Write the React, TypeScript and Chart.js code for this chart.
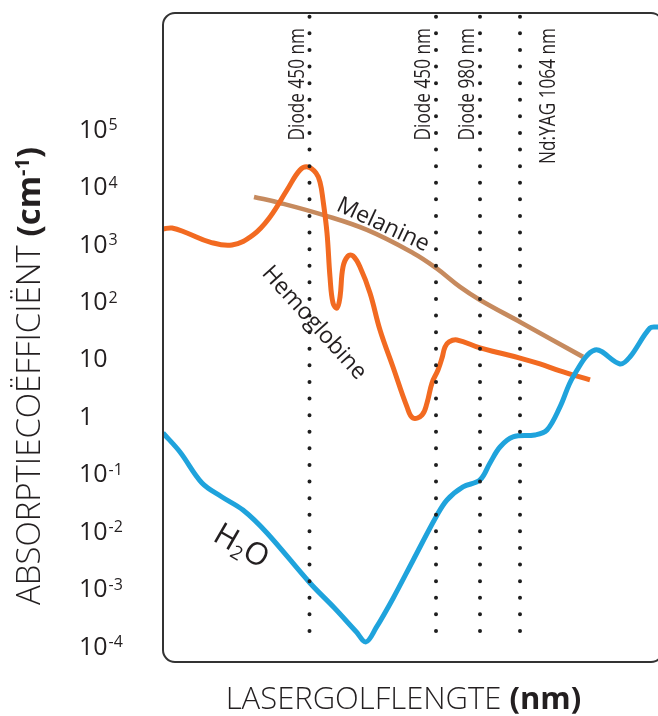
import React, { useEffect, useRef } from "react";
import { Chart, registerables } from "chart.js";

Chart.register(...registerables);

// Schematic wavelength position (0–100, axis unlabelled in the original)
const hemoX = [0, 1.8, 4.8, 9.4, 13.8, 18, 21.4, 24.8, 27.4, 29, 30.6, 31.4, 32, 32.8, 33.4, 34, 34.8, 35.4, 36, 37, 38, 39.4, 41.4, 43.4, 46, 48.8, 50, 51.8, 52.8, 53.8, 55, 55.8, 56.4, 57.2, 58.8, 63.4, 67.4, 71.4, 75.4, 79.4, 85.4];
const hemoY = [1810, 1880, 1540, 1070, 953, 1420, 2930, 8650, 19300, 21800, 17100, 11900, 5790, 1540, 264, 93, 76, 118, 394, 613, 613, 394, 139, 31.5, 7.14, 1.44, 0.92, 1.04, 1.68, 3.76, 6.33, 10.2, 15.9, 19.5, 21.1, 15.3, 12.5, 10.2, 8.05, 6.08, 4.24];

const melX = [18.2, 23.4, 32, 40.8, 50, 54.6, 59.4, 63.4, 71.4, 84];
const melY = [6530, 5140, 3180, 1740, 692, 379, 177, 105, 43.4, 10.7];

const waterX = [0, 3.4, 7.8, 11.8, 16, 20.8, 29.4, 34.2, 38.6, 40.6, 42.6, 46, 50, 54.6, 56.8, 60, 63.4, 65.4, 67.4, 70, 74.4, 76.8, 79.4, 82, 86.4, 91.4, 93.4, 97.4, 99, 100];
const waterY = [0.506, 0.236, 0.068, 0.0388, 0.023, 0.00916, 0.00123, 4.6e-4, 1.76e-4, 1.16e-4, 2.03e-4, 6.62e-4, 3.04e-3, 0.0174, 0.0344, 0.058, 0.0767, 0.152, 0.288, 0.431, 0.467, 0.57, 1.44, 4.78, 14.1, 8.05, 10.7, 34.1, 35.5, 36];

// Laser wavelength markers
const laserX = [29.3, 54.6, 63.4, 71.4];
const laserLabels = ["Diode 450 nm", "Diode 450 nm", "Diode 980 nm", "Nd:YAG 1064 nm"];
const laserTop = 9.0e6;
const laserBottom = 9.25e-5;

// Y tick labels: [base, exponent]
const yTickValues = [1e5, 1e4, 1e3, 1e2, 10, 1, 0.1, 0.01, 0.001, 0.0001];
const yTickBase = ["10", "10", "10", "10", "10", "1", "10", "10", "10", "10"];
const yTickExp = ["5", "4", "3", "2", "", "", "-1", "-2", "-3", "-4"];

// Curve name labels
const curveLabelText = ["Melanine", "Hemoglobine"];
const curveLabelX = [44, 30.2];
const curveLabelY = [2130, 41.7];
const curveLabelAngle = [25, 48];
const waterLabelX = 15.8;
const waterLabelY = 5.66e-3;

const Y_MIN = Math.pow(10, -4.286);
const Y_MAX = Math.pow(10, 7.02);

const W = 680;
const H = 716;
const TXT = "#231f20";

function pts(xs: number[], ys: number[]) {
  return xs.map((x, i) => ({ x, y: ys[i] }));
}

const decor = {
  id: "decor",
  afterDatasetsDraw(chart: any) {
    const ctx: CanvasRenderingContext2D = chart.ctx;
    const xs = chart.scales.x;
    const ys = chart.scales.y;
    const ca = chart.chartArea;

    // frame
    ctx.save();
    const r = 12;
    const l = ca.left, t = ca.top, rr = ca.right, b = ca.bottom;
    ctx.beginPath();
    ctx.moveTo(l + r, t);
    ctx.lineTo(rr - r, t);
    ctx.arcTo(rr, t, rr, t + r, r);
    ctx.lineTo(rr, b - r);
    ctx.arcTo(rr, b, rr - r, b, r);
    ctx.lineTo(l + r, b);
    ctx.arcTo(l, b, l, b - r, r);
    ctx.lineTo(l, t + r);
    ctx.arcTo(l, t, l + r, t, r);
    ctx.closePath();
    ctx.strokeStyle = "#333333";
    ctx.lineWidth = 2;
    ctx.stroke();
    ctx.restore();

    // y tick labels
    ctx.save();
    ctx.fillStyle = TXT;
    const fs = 25;
    const cap = fs * 0.714;
    yTickValues.forEach((v, i) => {
      const py = ys.getPixelForValue(v);
      ctx.font = `400 ${fs}px "Open Sans"`;
      ctx.textAlign = "left";
      ctx.textBaseline = "alphabetic";
      const bx = 79;
      ctx.fillText(yTickBase[i], bx, py + cap / 2);
      if (yTickExp[i]) {
        const w = ctx.measureText(yTickBase[i]).width;
        ctx.font = `400 16px "Open Sans"`;
        ctx.fillText(yTickExp[i], bx + w + 1, py - cap / 2 + 16 * 0.714 - 1);
      }
    });
    ctx.restore();

    // laser labels
    ctx.save();
    ctx.fillStyle = TXT;
    ctx.font = `400 21px "Open Sans"`;
    laserX.forEach((x, i) => {
      const px = xs.getPixelForValue(x);
      const baseX = i === 3 ? px + 35 : px - 6;
      ctx.save();
      ctx.translate(baseX, 28);
      ctx.rotate(-Math.PI / 2);
      ctx.scale(0.82, 1);
      ctx.textAlign = "right";
      ctx.textBaseline = "alphabetic";
      ctx.fillText(laserLabels[i], 0, 0);
      ctx.restore();
    });
    ctx.restore();

    // curve labels
    ctx.save();
    ctx.fillStyle = TXT;
    ctx.font = `400 23px "Open Sans"`;
    curveLabelText.forEach((txt, i) => {
      const px = xs.getPixelForValue(curveLabelX[i]);
      const py = ys.getPixelForValue(curveLabelY[i]);
      ctx.save();
      ctx.translate(px, py);
      ctx.rotate((curveLabelAngle[i] * Math.PI) / 180);
      ctx.textAlign = "center";
      ctx.textBaseline = "middle";
      ctx.fillText(txt, 0, 0);
      ctx.restore();
    });
    // H2O
    {
      const px = xs.getPixelForValue(waterLabelX);
      const py = ys.getPixelForValue(waterLabelY);
      ctx.save();
      ctx.translate(px, py);
      ctx.rotate((30 * Math.PI) / 180);
      ctx.textBaseline = "alphabetic";
      ctx.textAlign = "left";
      const big = 31, small = 19;
      ctx.font = `400 ${big}px "Open Sans"`;
      const wH = ctx.measureText("H").width;
      ctx.font = `400 ${small}px "Open Sans"`;
      const w2 = ctx.measureText("2").width;
      ctx.font = `400 ${big}px "Open Sans"`;
      const wO = ctx.measureText("O").width;
      const total = wH + w2 + wO;
      const x0 = -total / 2;
      const base = 11;
      ctx.fillText("H", x0, base);
      ctx.font = `400 ${small}px "Open Sans"`;
      ctx.fillText("2", x0 + wH, base + 5);
      ctx.font = `400 ${big}px "Open Sans"`;
      ctx.fillText("O", x0 + wH + w2, base);
      ctx.restore();
    }
    ctx.restore();

    // y axis title
    ctx.save();
    ctx.fillStyle = TXT;
    ctx.translate(40, 376);
    ctx.rotate(-Math.PI / 2);
    ctx.textBaseline = "alphabetic";
    ctx.textAlign = "left";
    const tf = 33;
    const sf = 20;
    const p1 = "ABSORPTIECOËFFICIËNT ";
    const p2 = "(cm";
    const p3 = "-1";
    const p4 = ")";
    ctx.font = `300 ${tf}px "Open Sans"`;
    const w1 = ctx.measureText(p1).width;
    ctx.font = `700 ${tf}px "Open Sans"`;
    const w2 = ctx.measureText(p2).width;
    const w4 = ctx.measureText(p4).width;
    ctx.font = `700 ${sf}px "Open Sans"`;
    const w3 = ctx.measureText(p3).width;
    let tx = -(w1 + w2 + w3 + w4) / 2;
    ctx.font = `300 ${tf}px "Open Sans"`;
    ctx.fillText(p1, tx, 0);
    tx += w1;
    ctx.font = `700 ${tf}px "Open Sans"`;
    ctx.fillText(p2, tx, 0);
    tx += w2;
    ctx.font = `700 ${sf}px "Open Sans"`;
    ctx.fillText(p3, tx, -11);
    tx += w3;
    ctx.font = `700 ${tf}px "Open Sans"`;
    ctx.fillText(p4, tx, 0);
    ctx.restore();

    // x axis title
    ctx.save();
    ctx.fillStyle = TXT;
    ctx.textBaseline = "alphabetic";
    ctx.textAlign = "left";
    const xf = 31;
    const q1 = "LASERGOLFLENGTE ";
    const q2 = "(nm)";
    ctx.font = `300 ${xf}px "Open Sans"`;
    const v1 = ctx.measureText(q1).width;
    ctx.font = `700 ${xf}px "Open Sans"`;
    const v2 = ctx.measureText(q2).width;
    const qx = 403.5 - (v1 + v2) / 2;
    ctx.font = `300 ${xf}px "Open Sans"`;
    ctx.fillText(q1, qx, 709);
    ctx.font = `700 ${xf}px "Open Sans"`;
    ctx.fillText(q2, qx + v1, 709);
    ctx.restore();
  },
};

export default function App() {
  const ref = useRef<HTMLCanvasElement | null>(null);
  useEffect(() => {
    if (!ref.current) return;
    const laserSets = laserX.map((x) => ({
      label: "laser",
      data: [
        { x, y: laserTop },
        { x, y: laserBottom },
      ],
      borderColor: "#1e1e1e",
      borderWidth: 4,
      borderDash: [0, 16.6],
      borderCapStyle: "round" as const,
      pointRadius: 0,
      tension: 0,
      clip: false as any,
    }));
    const chart = new Chart(ref.current, {
      type: "line",
      data: {
        datasets: [
          ...laserSets,
          {
            label: "H2O",
            data: pts(waterX, waterY),
            borderColor: "#1fa3dc",
            borderWidth: 5,
            pointRadius: 0,
            tension: 0.35,
            borderCapStyle: "butt",
          },
          {
            label: "Hemoglobine",
            data: pts(hemoX, hemoY),
            borderColor: "#f26a21",
            borderWidth: 5,
            pointRadius: 0,
            tension: 0.4,
            borderCapStyle: "butt",
          },
          {
            label: "Melanine",
            data: pts(melX, melY),
            borderColor: "#c68a5e",
            borderWidth: 4.6,
            pointRadius: 0,
            tension: 0.4,
            borderCapStyle: "butt",
          },
        ],
      },
      options: {
        animation: false,
        responsive: false,
        maintainAspectRatio: false,
        devicePixelRatio: 1,
        layout: { padding: { left: 163, right: W - 663, top: 13, bottom: H - 662 } },
        plugins: { legend: { display: false }, tooltip: { enabled: false }, title: { display: false } },
        events: [],
        scales: {
          x: { type: "linear", min: 0, max: 100, display: false },
          y: { type: "logarithmic", min: Y_MIN, max: Y_MAX, display: false },
        },
      },
      plugins: [decor],
    });
    return () => chart.destroy();
  }, []);
  return (
    <div style={{ position: "fixed", left: 0, top: 0, width: 658, height: 716, overflow: "hidden", background: "#fff" }}>
      <canvas ref={ref} width={W} height={H} style={{ width: W, height: H, display: "block" }} />
    </div>
  );
}
